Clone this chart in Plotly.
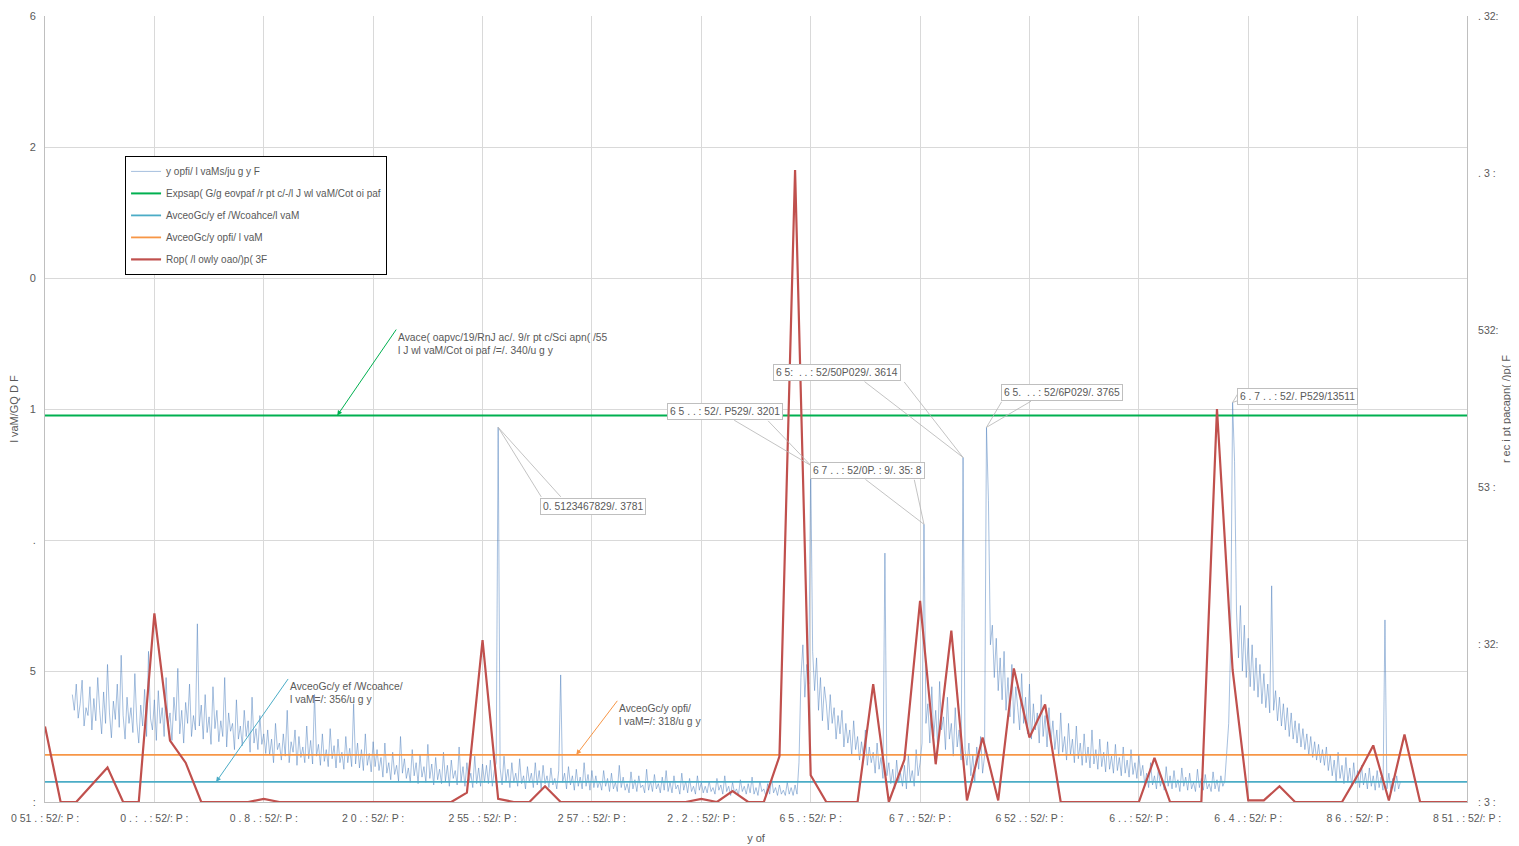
import plotly.graph_objects as go

# ---------------- data ----------------
x_tick_labels = ["0 51 . : 52/: P :", "0 . :  . : 52/: P :", "0 . 8 . : 52/: P :", "2 0 . : 52/: P :",
                 "2 55 . : 52/: P :", "2 57 . : 52/: P :", "2 . 2 . : 52/: P :", "6 5 . : 52/: P :",
                 "6 7 . : 52/: P :", "6 52 . : 52/: P :", "6 . . : 52/: P :", "6 . 4 . : 52/: P :",
                 "8 6 . : 52/: P :", "8 51 . : 52/: P :"]
left_tick_labels = [":", "5", ".", "1", "0", "2", "6"]
right_tick_labels = [": 3 :", ": 32:", "53 :", "532:", ". 3 :", ". 32:"]

# high-frequency noisy series (left axis), read segment by segment
blue_s1 = [0.82, 0.7, 0.9, 0.64, 0.75, 0.93, 0.58, 0.72, 0.66, 0.88, 0.55, 0.79, 0.62, 0.95, 0.7, 0.52,
           0.84, 0.6, 1.05, 0.68, 0.49, 0.77, 0.63, 0.9, 0.57, 1.12, 0.66, 0.48, 0.8, 0.6, 0.72, 0.53,
           0.98, 0.61, 0.45, 0.74, 0.58, 0.86, 0.5, 1.15, 0.64, 0.55, 0.78, 0.47]
blue_s2 = [0.85, 0.6, 0.72, 0.5, 0.95, 0.58, 0.68, 0.47, 0.8, 0.62, 1.02, 0.52, 0.7, 0.45, 0.76, 0.6,
           0.9, 0.5, 0.66, 0.55, 1.36, 0.58, 0.74, 0.48, 0.82, 0.53, 0.65, 0.44, 0.88, 0.56, 0.7, 0.46,
           0.62, 0.5, 0.95, 0.42, 0.68, 0.54, 0.6, 0.4, 0.78, 0.48, 0.58, 0.43, 0.7, 0.5, 0.62, 0.38,
           0.8, 0.45, 0.56, 0.4, 0.66, 0.44, 0.52, 0.37]
blue_s3 = [0.55, 0.36, 0.48, 0.3, 0.6, 0.4, 0.45, 0.32, 0.52, 0.35, 0.7, 0.3, 0.46, 0.38, 0.55, 0.28,
           0.5, 0.34, 0.42, 0.3, 0.58, 0.33, 0.47, 0.29, 0.82, 0.35, 0.44, 0.28, 0.52, 0.31, 0.4, 0.27,
           0.56, 0.33, 0.43, 0.26, 0.48, 0.3, 0.38, 0.25, 0.5, 0.3, 0.41, 0.27, 0.75, 0.29, 0.45, 0.26,
           0.4, 0.24, 0.52, 0.28, 0.37, 0.23, 0.46, 0.27]
blue_s4 = [0.4, 0.24, 0.34, 0.19, 0.45, 0.22, 0.3, 0.17, 0.38, 0.21, 0.28, 0.16, 0.5, 0.22, 0.33, 0.18,
           0.26, 0.15, 0.4, 0.2, 0.3, 0.14, 0.36, 0.19, 0.27, 0.15, 0.44, 0.18, 0.29, 0.13, 0.34, 0.17,
           0.25, 0.14, 0.38, 0.16, 0.28, 0.12, 0.32, 0.18, 0.24, 0.13, 0.42, 0.16, 0.27, 0.12, 0.3, 0.15,
           0.22, 0.11, 0.35, 0.14, 0.26, 0.12, 0.29, 0.15]
blue_s5 = [0.28, 0.14, 0.32, 0.12, 0.24, 0.3, 2.86, 0.26, 0.13, 0.35, 0.16, 0.25, 0.11, 0.3, 0.15, 0.22,
           0.12, 0.33, 0.14, 0.2, 0.1, 0.27, 0.15, 0.22, 0.11, 0.3, 0.13, 0.24, 0.1, 0.28, 0.14, 0.2,
           0.11, 0.26, 0.13, 0.18, 0.1, 0.24, 0.97, 0.15, 0.22, 0.1, 0.27, 0.13, 0.2, 0.09, 0.25, 0.12,
           0.19, 0.1, 0.3, 0.12, 0.21, 0.09, 0.24, 0.11]
blue_s6 = [0.2, 0.11, 0.16, 0.09, 0.24, 0.12, 0.18, 0.08, 0.22, 0.1, 0.15, 0.08, 0.28, 0.11, 0.19, 0.09,
           0.14, 0.07, 0.23, 0.1, 0.17, 0.08, 0.2, 0.11, 0.13, 0.07, 0.25, 0.09, 0.16, 0.08, 0.21, 0.1,
           0.14, 0.07, 0.19, 0.09, 0.24, 0.08, 0.15, 0.07, 0.2, 0.1, 0.13, 0.06, 0.22, 0.09, 0.16, 0.07,
           0.18, 0.08, 0.12, 0.06, 0.2, 0.09, 0.15, 0.07]
blue_s7 = [0.12, 0.07, 0.16, 0.08, 0.11, 0.06, 0.18, 0.09, 0.13, 0.06, 0.2, 0.08, 0.12, 0.05, 0.15, 0.07,
           0.1, 0.05, 0.17, 0.08, 0.12, 0.06, 0.14, 0.07, 0.19, 0.06, 0.11, 0.05, 0.16, 0.08, 0.1, 0.05,
           0.14, 0.06, 0.18, 0.07, 0.11, 0.05, 0.13, 0.06, 0.09, 0.05, 0.15, 0.06, 0.11, 0.05, 0.13, 0.06]
blue_s8 = [0.3, 0.95, 1.2, 0.8, 1.05, 0.9, 2.57, 1.15, 0.85, 1.1, 0.7, 0.95, 0.62, 0.88, 0.75, 0.55,
           0.82, 0.6, 0.72, 0.48, 0.66, 0.52, 0.7, 0.42, 0.6, 0.45, 0.55, 0.36, 0.62, 0.4, 0.5, 0.32,
           0.46, 0.35, 0.55, 0.28, 0.42, 0.3, 0.38, 0.22, 0.45, 0.25, 0.34, 0.18, 1.9, 0.2, 0.3, 0.14,
           0.25, 0.1, 0.32, 0.15, 0.22, 0.12, 0.28, 0.1, 0.36, 0.16, 0.24, 0.12, 0.4, 0.2, 0.3, 0.45]
blue_s9 = [2.12, 0.6, 0.75, 0.45, 0.88, 0.5, 0.7, 0.42, 0.92, 0.55, 0.65, 0.4, 0.8, 0.48, 0.6, 0.35,
           0.72, 0.42, 0.55, 0.32, 2.63, 0.4, 0.28, 0.45, 0.2, 0.36, 0.16, 0.42, 0.25, 0.5, 0.22, 0.35,
           2.86, 2.3, 1.2, 1.35, 0.95, 1.25, 0.85, 1.1, 0.78, 1.15, 0.7, 0.95, 0.65, 1.05, 0.6, 0.88,
           0.72, 0.55, 0.98, 0.6, 0.8, 0.52, 0.9, 0.48, 0.75, 0.55, 0.68, 0.45, 0.82, 0.5, 0.66, 0.42,
           0.72, 0.46]
blue_s10 = [0.62, 0.4, 0.55, 0.35, 0.68, 0.38, 0.5, 0.32, 0.6, 0.36, 0.48, 0.3, 0.58, 0.33, 0.45, 0.28,
            0.52, 0.3, 0.42, 0.26, 0.55, 0.29, 0.4, 0.25, 0.48, 0.27, 0.38, 0.23, 0.46, 0.25, 0.35, 0.22,
            0.44, 0.24, 0.34, 0.2, 0.42, 0.22, 0.32, 0.19, 0.4, 0.21, 0.3, 0.18, 0.36, 0.2]
blue_s11 = [0.28, 0.14, 0.22, 0.11, 0.3, 0.13, 0.2, 0.1, 0.25, 0.12, 0.18, 0.09, 0.27, 0.12, 0.2, 0.1,
            0.24, 0.11, 0.17, 0.08, 0.26, 0.12, 0.19, 0.09, 0.22, 0.1, 0.15, 0.08, 0.25, 0.11, 0.18, 0.09,
            0.21, 0.1, 0.14, 0.08, 0.23, 0.1, 0.17, 0.08, 0.2, 0.12, 0.16, 0.4]
blue_s12 = [0.6, 1.2, 3.05, 2.6, 1.45, 1.1, 1.5, 1.0, 1.35, 0.95, 1.25, 0.88, 1.2, 0.85, 1.1, 0.8,
            1.05, 0.75, 0.98, 0.72, 0.9, 0.68, 1.65, 0.7, 0.85, 0.62, 0.8, 0.58, 0.75, 0.55, 0.72, 0.5,
            0.68, 0.48, 0.62, 0.45, 0.6, 0.42, 0.56, 0.4, 0.52, 0.36, 0.5, 0.34, 0.46, 0.32, 0.44, 0.3,
            0.4, 0.28]
blue_s13 = [0.42, 0.24, 0.36, 0.2, 0.32, 0.16, 0.38, 0.18, 0.28, 0.14, 0.34, 0.15, 0.26, 0.12, 0.3, 0.14,
            0.24, 0.11, 0.28, 0.13, 0.22, 0.1, 0.26, 0.12, 0.2, 0.09, 0.24, 0.11, 0.19, 0.09, 1.39, 0.1,
            0.22, 0.09, 0.18, 0.08, 0.2, 0.1, 0.16]

# daily series (right axis)
red_vals = [0.48, 0, 0, 0.11, 0.22, 0, 0, 1.2, 0.39, 0.25, 0, 0, 0, 0, 0.02, 0,
            0, 0, 0, 0, 0, 0, 0, 0, 0, 0, 0, 0.06, 1.03, 0.02, 0, 0,
            0.1, 0, 0, 0, 0, 0, 0, 0, 0, 0, 0.02, 0, 0.07, 0, 0, 0.29,
            4.02, 0.17, 0, 0, 0, 0.75, 0, 0.27, 1.28, 0.24, 1.09, 0.01, 0.41, 0.01, 0.85, 0.41,
            0.62, 0, 0, 0, 0, 0, 0, 0.28, 0, 0, 0, 2.5, 0.84, 0.01, 0.01, 0.1,
            0, 0, 0, 0, 0.17, 0.36, 0.01, 0.43, 0, 0, 0, 0]

green_level = 2.95
cyan_level = 0.153
orange_level = 0.36

legend_names = ["y opfi/ l vaMs/ju g y F",
                "Expsap( G/g eovpaf /r pt c/-/l J wl vaM/Cot oi paf",
                "AvceoGc/y ef /Wcoahce/l vaM",
                "AvceoGc/y opfi/ l vaM",
                "Rop( /l owly oao/)p( 3F"]

callout_idx = [218, 378, 436, 456, 468, 594]
callout_text = ["0. 5123467829/. 3781", "6 5 . . : 52/. P529/. 3201", "6 7 . . : 52/0P. : 9/. 35: 8",
                "6 5:  . . : 52/50P029/. 3614", "6 5.  . . : 52/6P029/. 3765", "6 . 7 . . : 52/. P529/13511"]

# ---------------- build ----------------
blue_vals = (blue_s1 + blue_s2 + blue_s3 + blue_s4 + blue_s5 + blue_s6 + blue_s7 + blue_s8 + blue_s9
             + blue_s10 + blue_s11 + blue_s12 + blue_s13)
blue_x = [1.75 + 0.125 * i for i in range(len(blue_vals))]
red_x = list(range(len(red_vals)))
x_end = red_x[-1]
tickvals_x = list(range(0, x_end + 1, 7))

FONT = "Liberation Sans, Arial, sans-serif"
GRAY = "#595959"
LEADER = "#b4b4b4"

fig = go.Figure()
fig.add_trace(go.Scatter(x=blue_x, y=blue_vals, mode="lines", name=legend_names[0], legendgroup="g0",
                         line=dict(color="rgba(79,129,189,0.85)", width=0.6)))
fig.add_trace(go.Scatter(x=[0, x_end], y=[green_level, green_level], mode="lines", name=legend_names[1],
                         legendgroup="g1", line=dict(color="#00b050", width=2)))
fig.add_trace(go.Scatter(x=[0, x_end], y=[cyan_level, cyan_level], mode="lines", name=legend_names[2],
                         legendgroup="g2", line=dict(color="#4bacc6", width=1.8)))
fig.add_trace(go.Scatter(x=[0, x_end], y=[orange_level, orange_level], mode="lines", name=legend_names[3],
                         legendgroup="g3", line=dict(color="#f79646", width=1.8)))
fig.add_trace(go.Scatter(x=red_x, y=red_vals, mode="lines", name=legend_names[4], yaxis="y2",
                         legendgroup="g4", line=dict(color="#c0504d", width=2.2)))

annotations = []
# callouts on spikes: box offset (px) and the two wedge-leader tail offsets (px)
box_off = [(95, 79), (-86, -54), (-56, -54), (-126, -85), (76, -35), (65, -6)]
wedge_off = [((44, 71), (64, 71)), ((-78, -46), (-44, -46)), ((-60, -46), (-10, -46)),
             ((-100, -77), (-60, -77)), ((16, -27), (46, -27)), ((6, -10), (6, -2))]
for idx, txt, (ax, ay), tails in zip(callout_idx, callout_text, box_off, wedge_off):
    px, py = blue_x[idx], blue_vals[idx]
    for tx, ty in tails:
        annotations.append(dict(x=px, y=py, xref="x", yref="y", text="", showarrow=True,
                                arrowhead=0, arrowwidth=0.8, arrowcolor=LEADER, ax=tx, ay=ty))
    annotations.append(dict(x=px, y=py, xref="x", yref="y", text=txt,
                            showarrow=True, arrowhead=0, arrowwidth=0.1, arrowcolor="rgba(0,0,0,0)",
                            ax=ax, ay=ay, bgcolor="white", bordercolor="#bfbfbf", borderwidth=1,
                            borderpad=2, font=dict(family=FONT, size=10.3, color=GRAY)))
# level annotations
annotations.append(dict(x=18.7, y=green_level, xref="x", yref="y",
                        text="Avace( oapvc/19/RnJ ac/. 9/r pt c/Sci apn( /55<br>l J wl vaM/Cot oi paf /=/. 340/u g y",
                        showarrow=True, arrowhead=2, arrowsize=1, arrowwidth=1, arrowcolor="#00b050",
                        ax=59, ay=-86, xanchor="left", yanchor="top", align="left",
                        font=dict(family=FONT, size=10.3, color=GRAY)))
annotations.append(dict(x=10.95, y=cyan_level, xref="x", yref="y",
                        text="AvceoGc/y ef /Wcoahce/<br>l vaM=/: 356/u g y",
                        showarrow=True, arrowhead=2, arrowsize=1, arrowwidth=1, arrowcolor="#4bacc6",
                        ax=72, ay=-103, xanchor="left", yanchor="top", align="left",
                        font=dict(family=FONT, size=10.3, color=GRAY)))
annotations.append(dict(x=34.0, y=orange_level, xref="x", yref="y",
                        text="AvceoGc/y opfi/<br>l vaM=/: 318/u g y",
                        showarrow=True, arrowhead=2, arrowsize=1, arrowwidth=1, arrowcolor="#f79646",
                        ax=41, ay=-54, xanchor="left", yanchor="top", align="left",
                        font=dict(family=FONT, size=10.3, color=GRAY)))

fig.update_layout(
    width=1519, height=846,
    margin=dict(l=37, r=60, t=8, b=52),
    plot_bgcolor="white", paper_bgcolor="white",
    font=dict(family=FONT, size=11, color=GRAY),
    showlegend=True,
    legend=dict(x=0.0563, y=0.822, xanchor="left", yanchor="top", bgcolor="white",
                bordercolor="black", borderwidth=1, font=dict(family=FONT, size=10, color=GRAY),
                traceorder="grouped", tracegroupgap=3, itemwidth=30),
    xaxis=dict(range=[0, x_end], tickmode="array", tickvals=tickvals_x, ticktext=x_tick_labels,
               showgrid=True, gridcolor="#d9d9d9", gridwidth=1, zeroline=False, showline=True,
               linecolor="#bfbfbf", ticks="", tickangle=0, automargin=False, ticklabelstandoff=6,
               tickfont=dict(size=10.5),
               title=dict(text="y of", standoff=11, font=dict(family=FONT, size=11, color=GRAY))),
    yaxis=dict(range=[0, 6], tickmode="array", tickvals=list(range(7)), ticktext=left_tick_labels,
               showgrid=True, gridcolor="#d9d9d9", zeroline=False, showline=True, linecolor="#bfbfbf",
               ticks="", automargin=False, ticklabelstandoff=6, tickfont=dict(size=11),
               title=dict(text="l vaM/GQ D F", standoff=10, font=dict(family=FONT, size=11, color=GRAY))),
    yaxis2=dict(range=[0, 5], tickmode="array", tickvals=list(range(6)), ticktext=right_tick_labels,
                overlaying="y", side="right", showgrid=False, zeroline=False, showline=True,
                linecolor="#bfbfbf", ticks="", automargin=False, ticklabelstandoff=8,
                tickfont=dict(size=10.5),
                title=dict(text="r ec i pt pacapn( /)p( F", standoff=4,
                           font=dict(family=FONT, size=11, color=GRAY))),
    annotations=annotations,
)

fig.write_html("out.html")
